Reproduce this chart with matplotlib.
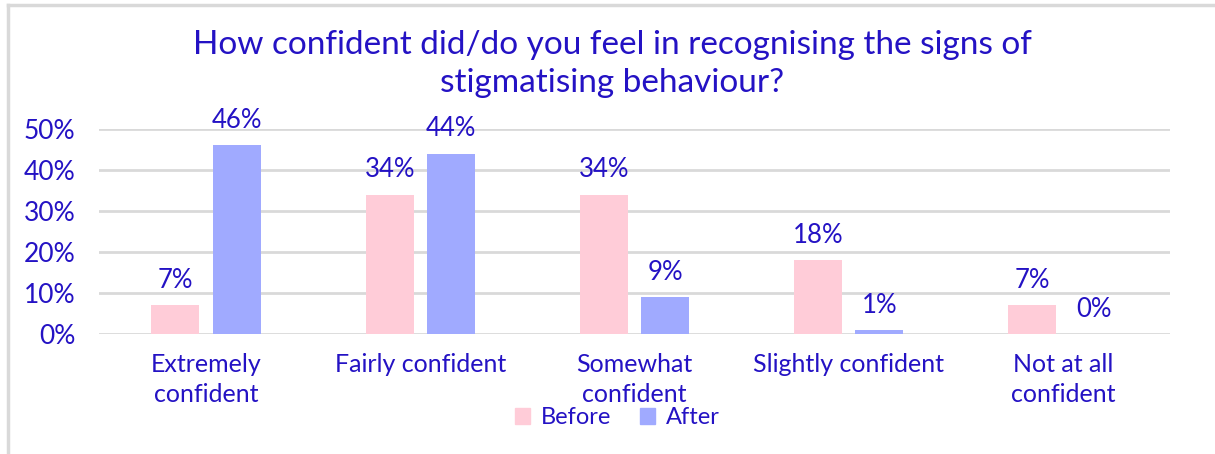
import matplotlib.pyplot as plt
import numpy as np
from matplotlib.patches import Patch

categories = ['Extremely\nconfident', 'Fairly confident', 'Somewhat\nconfident',
              'Slightly confident', 'Not at all\nconfident']
before = [7, 34, 34, 18, 7]
after = [46, 44, 9, 1, 0]

txt = '#2412C4'
pink = '#FFCCD8'
blue = '#A0AAFF'
grid = '#D9D9D9'

plt.rcParams['font.family'] = ['Lato', 'DejaVu Sans']

fig = plt.figure(figsize=(12.15, 4.54), dpi=100)
ax = fig.add_axes([99 / 1215, 1 - 334 / 454, (1170 - 99) / 1215, (334 - 129) / 454])

x = np.arange(len(categories))
w = 0.224
off = 0.143
b1 = ax.bar(x - off, before, w, color=pink, zorder=3)
b2 = ax.bar(x + off, after, w, color=blue, zorder=3)

for bars, vals in [(b1, before), (b2, after)]:
    for r, v in zip(bars, vals):
        ax.text(r.get_x() + r.get_width() / 2, v + 3.0, f'{v}%', ha='center', va='bottom',
                color=txt, fontsize=18.5)

ax.set_xlim(-0.5, len(categories) - 0.5)
ax.set_ylim(0, 50)
ax.set_yticks(range(0, 51, 10))
ax.set_yticklabels([f'{v}%' for v in range(0, 51, 10)])
ax.set_xticks(x)
ax.set_xticklabels(categories, linespacing=1.32)
ax.tick_params(axis='y', length=0, pad=17, labelsize=19, labelcolor=txt)
ax.tick_params(axis='x', length=0, pad=14, labelsize=18, labelcolor=txt)
ax.yaxis.grid(True, color=grid, linewidth=2, zorder=0)
ax.set_axisbelow(True)
for s in ax.spines.values():
    s.set_visible(False)

fig.text(0.504, 1 - 64 / 454, 'How confident did/do you feel in recognising the signs of\nstigmatising behaviour?',
         ha='center', va='center', color=txt, fontsize=24, linespacing=1.33)

handles = [Patch(color=pink, label='Before'), Patch(color=blue, label='After')]
fig.legend(handles=handles, loc='center', bbox_to_anchor=(0.508, 1 - 418 / 454), ncol=2,
           frameon=False, fontsize=17, labelcolor=txt, handlelength=0.65, handleheight=0.65,
           handletextpad=0.45, columnspacing=1.2)

# chart frame, partly cut off in the screenshot
fig.add_artist(plt.Line2D([8 / 1215, 1], [1 - 5 / 454, 1 - 5 / 454], color=grid, linewidth=2.5))
fig.add_artist(plt.Line2D([8 / 1215, 8 / 1215], [0, 1 - 5 / 454], color=grid, linewidth=2.5))

fig.savefig('out.png', dpi=100)
